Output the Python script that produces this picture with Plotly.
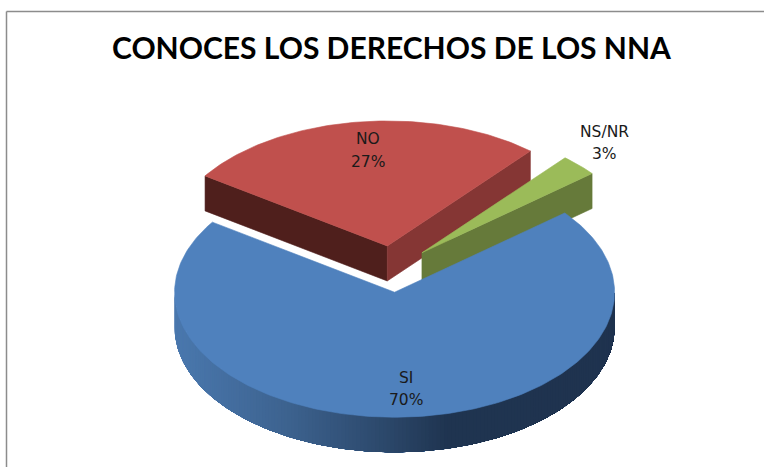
import math
import plotly.graph_objects as go

# ---- data ----
categories = ["SI", "NO", "NS/NR"]
values = [70.4, 26.8, 2.8]
pulls = [0.186, 0.186, 0.186]
top_colors = ["#4f81bd", "#c0504d", "#9bbb59"]
chart_title = "CONOCES LOS DERECHOS DE LOS NNA"

# ---- projection of the tilted pie (drawing-area units = pixels) ----
CX, CY = 392.7, 269.0
RX, RY = 220.0, 125.0
DEPTH = 35.0
FIRST_SLICE_END = 145.9
STEP = 1.0

total = sum(values)
spans = [v / total * 360.0 for v in values]


def slice_angles():
    """Start/end angles (degrees, maths convention, going clockwise)."""
    out = {}
    a = FIRST_SLICE_END
    for i in (1, 2, 0):
        out[i] = (a, a - spans[i])
        a -= spans[i]
    return out


angles = slice_angles()


def centre(i):
    s, e = angles[i]
    m = math.radians((s + e) / 2)
    return CX + pulls[i] * RX * math.cos(m), CY - pulls[i] * RY * math.sin(m)


def arc(i, a0, a1):
    cx, cy = centre(i)
    n = max(2, int(abs(a1 - a0) / STEP) + 1)
    xs, ys = [], []
    for k in range(n + 1):
        t = math.radians(a0 + (a1 - a0) * k / n)
        xs.append(cx + RX * math.cos(t))
        ys.append(cy - RY * math.sin(t))
    return xs, ys


def lerp_colour(stops, t):
    for (t0, c0), (t1, c1) in zip(stops, stops[1:]):
        if t <= t1:
            f = (t - t0) / (t1 - t0)
            rgb = [round(c0[j] + (c1[j] - c0[j]) * f) for j in range(3)]
            return "rgb(%d,%d,%d)" % tuple(rgb)
    return "rgb(%d,%d,%d)" % stops[-1][1]


SIDE_STOPS = [
    (0.0, (74, 120, 174)),
    (0.25, (61, 99, 144)),
    (0.5, (42, 69, 103)),
    (0.62, (31, 52, 80)),
    (1.0, (31, 51, 79)),
]

fig = go.Figure()


def poly(xs, ys, colour, edge=0.6):
    fig.add_trace(go.Scatter(
        x=xs + xs[:1], y=ys + ys[:1], mode="lines", fill="toself",
        fillcolor=colour, line=dict(color=colour, width=edge),
        hoverinfo="skip", showlegend=False,
    ))


def cut_face(i, angle, colour):
    cx, cy = centre(i)
    t = math.radians(angle)
    ex, ey = cx + RX * math.cos(t), cy - RY * math.sin(t)
    poly([cx, ex, ex, cx], [cy, ey, ey + DEPTH, cy + DEPTH], colour)


def top_face(i):
    s, e = angles[i]
    xs, ys = arc(i, s, e)
    cx, cy = centre(i)
    poly([cx] + xs, [cy] + ys, top_colors[i])


# NO
cut_face(1, angles[1][0], "#4f1f1c")
cut_face(1, angles[1][1], "#853634")
top_face(1)
# NS/NR
cut_face(2, angles[2][1], "#667a3a")
top_face(2)
# SI: outer wall seen from above, shaded left to right, then its top.
# Each strip runs on to the end of the wall; the next strip paints over it,
# which leaves no seams between strips.
cx0 = centre(0)[0]
for deg in range(180, 360, 1):
    xs, ys = arc(0, deg, 360)
    mid = cx0 + RX * math.cos(math.radians(deg + 0.5))
    col = lerp_colour(SIDE_STOPS, (mid - (cx0 - RX)) / (2 * RX))
    poly(xs + list(reversed(xs)), ys + [y + DEPTH for y in reversed(ys)], col, edge=0)
top_face(0)

# ---- labels ----
annotations = []
label_places = {0: (406, 378, 400), 1: (368, 139, 162), 2: (604, 132, 154)}
label_font = dict(family="DejaVu Sans", size=15.5, color="#1a1a1a")
for i, (lx, ly1, ly2) in label_places.items():
    annotations.append(dict(x=lx, y=ly1, text=categories[i], showarrow=False, font=label_font))
    annotations.append(dict(x=lx, y=ly2, text=f"{round(values[i])}%", showarrow=False, font=label_font))
annotations.append(dict(x=391.5, y=46.5, text=f"<b>{chart_title}</b>", showarrow=False,
                        font=dict(family="Lato", size=30, color="#000000")))

fig.update_layout(
    width=764, height=467, autosize=False,
    margin=dict(l=0, r=0, t=0, b=0),
    paper_bgcolor="#ffffff", plot_bgcolor="#ffffff",
    xaxis=dict(range=[0, 764], visible=False, fixedrange=True),
    yaxis=dict(range=[467, 0], visible=False, fixedrange=True),
    showlegend=False,
    annotations=annotations,
    shapes=[dict(type="line", xref="paper", yref="paper", x0=6.5 / 764, x1=6.5 / 764,
                 y0=0, y1=1 - 11.5 / 467, line=dict(color="#8c8c8c", width=1.5)),
            dict(type="line", xref="paper", yref="paper", x0=6.5 / 764, x1=1,
                 y0=1 - 11.5 / 467, y1=1 - 11.5 / 467, line=dict(color="#8c8c8c", width=1.5))],
)
fig.write_html("out.html", config={"displayModeBar": False},
               post_script="document.body.style.margin='0';document.documentElement.style.overflow='hidden';")
